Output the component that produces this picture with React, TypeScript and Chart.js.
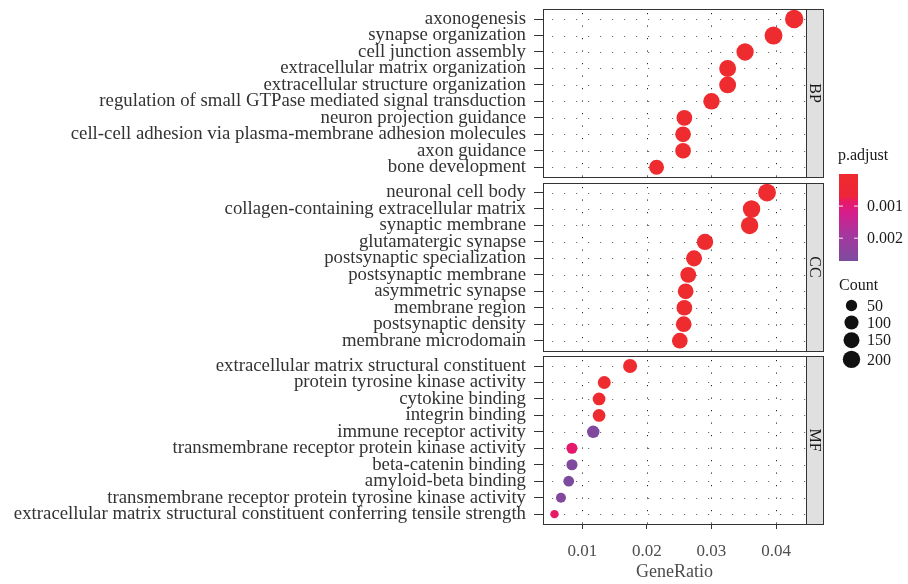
import React, { useEffect, useRef } from "react";
import { Chart, registerables } from "chart.js";

Chart.register(...registerables);

const FONT = "'Liberation Serif', 'Times New Roman', serif";

// ---------------- data ----------------
const panelNames = ["BP", "CC", "MF"];

const bpTerms = [
  "axonogenesis",
  "synapse organization",
  "cell junction assembly",
  "extracellular matrix organization",
  "extracellular structure organization",
  "regulation of small GTPase mediated signal transduction",
  "neuron projection guidance",
  "cell-cell adhesion via plasma-membrane adhesion molecules",
  "axon guidance",
  "bone development",
];
const bpRatio = [0.0428, 0.0396, 0.0352, 0.0325, 0.0325, 0.03, 0.0258, 0.0256, 0.0256, 0.0215];
const bpCount = [240, 222, 197, 182, 182, 168, 144, 143, 143, 120];
const bpPadj = [3.1e-20, 5.4e-18, 2.2e-14, 6.0e-15, 7.1e-15, 1.3e-11, 4.5e-13, 2.6e-10, 8.8e-12, 1.9e-7];

const ccTerms = [
  "neuronal cell body",
  "collagen-containing extracellular matrix",
  "synaptic membrane",
  "glutamatergic synapse",
  "postsynaptic specialization",
  "postsynaptic membrane",
  "asymmetric synapse",
  "membrane region",
  "postsynaptic density",
  "membrane microdomain",
];
const ccRatio = [0.0386, 0.0362, 0.0359, 0.029, 0.0273, 0.0264, 0.026, 0.0258, 0.0257, 0.0251];
const ccCount = [216, 203, 201, 162, 153, 148, 145, 144, 144, 141];
const ccPadj = [1.5e-17, 4.4e-19, 2.3e-15, 6.8e-13, 9.1e-10, 1.2e-10, 3.3e-9, 5.5e-8, 2.1e-9, 8.0e-8];

const mfTerms = [
  "extracellular matrix structural constituent",
  "protein tyrosine kinase activity",
  "cytokine binding",
  "integrin binding",
  "immune receptor activity",
  "transmembrane receptor protein kinase activity",
  "beta-catenin binding",
  "amyloid-beta binding",
  "transmembrane receptor protein tyrosine kinase activity",
  "extracellular matrix structural constituent conferring tensile strength",
];
const mfRatio = [0.0174, 0.0134, 0.0126, 0.0126, 0.0117, 0.0084, 0.0084, 0.0079, 0.0067, 0.0057];
const mfCount = [97, 75, 71, 71, 66, 47, 47, 44, 37, 32];
const mfPadj = [2.8e-8, 4.1e-5, 7.6e-5, 6.2e-5, 0.00262, 0.00089, 0.00266, 0.00271, 0.00258, 0.00086];

const xTicks = [0.01, 0.02, 0.03, 0.04];
const xMin = 0.00392;
const xMax = 0.04463;
const padjBreaks = [0.001, 0.002];
const countBreaks = [50, 100, 150, 200];

// ---------------- derived ----------------
const panels = [
  { name: panelNames[0], terms: bpTerms, ratio: bpRatio, count: bpCount, padj: bpPadj },
  { name: panelNames[1], terms: ccTerms, ratio: ccRatio, count: ccCount, padj: ccPadj },
  { name: panelNames[2], terms: mfTerms, ratio: mfRatio, count: mfCount, padj: mfPadj },
];

const EXPAND = 0.6;
const GAP = 0.34;
const spanOf = (p: number) => panels[p].terms.length - 1 + 2 * EXPAND;
const panelStart = (p: number) => {
  let s = 0;
  for (let k = 0; k < p; k++) s += spanOf(k) + GAP;
  return s;
};
const posOf = (p: number, i: number) => panelStart(p) + EXPAND + i;
const yTotal = panelStart(panels.length - 1) + spanOf(panels.length - 1);

const yTickValues: number[] = [];
const yTickLabels: string[] = [];
panels.forEach((pn, p) =>
  pn.terms.forEach((t, i) => {
    yTickValues.push(posOf(p, i));
    yTickLabels.push(t);
  })
);

const allCounts = [...bpCount, ...ccCount, ...mfCount];
const cMin = Math.min(...allCounts);
const cMax = Math.max(...allCounts);
const R_MIN = 4.2;
const R_MAX = 9.2;
const radiusFor = (c: number) =>
  R_MIN + (R_MAX - R_MIN) * Math.sqrt(Math.max(0, c - cMin) / (cMax - cMin));

const allPadj = [...bpPadj, ...ccPadj, ...mfPadj];
const pMin = Math.min(...allPadj);
const pMax = Math.max(...allPadj);

const colorStops: [number, number[]][] = [
  [0, [238, 43, 46]],
  [0.25, [237, 38, 56]],
  [0.33, [230, 24, 110]],
  [0.45, [212, 30, 140]],
  [0.7, [165, 55, 158]],
  [1, [125, 75, 158]],
];
const rgb = (c: number[]) => `rgb(${Math.round(c[0])},${Math.round(c[1])},${Math.round(c[2])})`;
const colorFor = (p: number) => {
  const t = Math.min(1, Math.max(0, (p - pMin) / (pMax - pMin)));
  for (let k = 1; k < colorStops.length; k++) {
    const [t1, c1] = colorStops[k];
    const [t0, c0] = colorStops[k - 1];
    if (t <= t1) {
      const f = (t - t0) / (t1 - t0);
      return rgb([0, 1, 2].map((j) => c0[j] + (c1[j] - c0[j]) * f));
    }
  }
  return rgb(colorStops[colorStops.length - 1][1]);
};

// ---------------- plugin ----------------
const STRIP_W = 17;

const facetPlugin = {
  id: "facets",
  beforeDatasetsDraw(chart: any) {
    const { ctx, chartArea, scales } = chart;
    const x = scales.x;
    const y = scales.y;
    ctx.save();
    panels.forEach((pn, p) => {
      const top = Math.round(y.getPixelForValue(panelStart(p)));
      const bot = Math.round(y.getPixelForValue(panelStart(p) + spanOf(p)));
      ctx.fillStyle = "#ffffff";
      ctx.fillRect(chartArea.left, top, chartArea.right - chartArea.left, bot - top);
      ctx.lineWidth = 1;
      ctx.setLineDash([1.2, 10.8]);
      ctx.strokeStyle = "#6e6e6e";
      pn.terms.forEach((_, i) => {
        const yy = Math.round(y.getPixelForValue(posOf(p, i))) + 0.5;
        ctx.beginPath();
        ctx.moveTo(chartArea.left + 9, yy);
        ctx.lineTo(chartArea.right, yy);
        ctx.stroke();
      });
      ctx.strokeStyle = "#222222";
      ctx.setLineDash([1.2, 11.3]);
      xTicks.forEach((t) => {
        const xx = Math.round(x.getPixelForValue(t)) + 0.5;
        ctx.beginPath();
        ctx.moveTo(xx, top + 4);
        ctx.lineTo(xx, bot);
        ctx.stroke();
      });
    });
    ctx.restore();
  },
  afterDatasetsDraw(chart: any) {
    const { ctx, chartArea, scales } = chart;
    const y = scales.y;
    ctx.save();
    ctx.setLineDash([]);
    panels.forEach((pn, p) => {
      const top = Math.round(y.getPixelForValue(panelStart(p)));
      const bot = Math.round(y.getPixelForValue(panelStart(p) + spanOf(p)));
      const L = Math.round(chartArea.left);
      const R = Math.round(chartArea.right);
      // strip
      ctx.fillStyle = "#e0e0e0";
      ctx.fillRect(R, top, STRIP_W, bot - top);
      ctx.strokeStyle = "#333333";
      ctx.lineWidth = 1;
      ctx.strokeRect(R + 0.5, top + 0.5, STRIP_W, bot - top);
      ctx.strokeRect(L + 0.5, top + 0.5, R - L, bot - top);
      ctx.save();
      ctx.translate(R + STRIP_W / 2 + 0.5, (top + bot) / 2);
      ctx.rotate(Math.PI / 2);
      ctx.fillStyle = "#1a1a1a";
      ctx.font = `16px ${FONT}`;
      ctx.textAlign = "center";
      ctx.textBaseline = "middle";
      ctx.fillText(pn.name, 0, 1);
      ctx.restore();
    });

    // legend: p.adjust colourbar
    const LX = 839;
    ctx.fillStyle = "#1a1a1a";
    ctx.font = `16px ${FONT}`;
    ctx.textAlign = "left";
    ctx.textBaseline = "middle";
    ctx.fillText("p.adjust", LX - 1, 156);
    const barTop = 174;
    const barBot = 261;
    const barW = 19;
    const grad = ctx.createLinearGradient(0, barTop, 0, barBot);
    colorStops.forEach(([t, c]) => grad.addColorStop(t, rgb(c)));
    ctx.fillStyle = grad;
    ctx.fillRect(LX, barTop, barW, barBot - barTop);
    padjBreaks.forEach((b) => {
      const yy = barTop + ((b - pMin) / (pMax - pMin)) * (barBot - barTop);
      ctx.strokeStyle = "rgba(255,255,255,0.9)";
      ctx.lineWidth = 1;
      ctx.beginPath();
      ctx.moveTo(LX, yy);
      ctx.lineTo(LX + 4, yy);
      ctx.moveTo(LX + barW - 4, yy);
      ctx.lineTo(LX + barW, yy);
      ctx.stroke();
      ctx.fillStyle = "#1a1a1a";
      ctx.fillText(b.toFixed(3), LX + 28, yy + 1);
    });

    // legend: Count
    ctx.fillStyle = "#1a1a1a";
    ctx.fillText("Count", LX, 286);
    let yy = 297;
    countBreaks.forEach((c) => {
      const r = radiusFor(c);
      const h = Math.max(17, 2 * r + 2.5);
      const cy = yy + h / 2;
      ctx.fillStyle = "#111111";
      ctx.beginPath();
      ctx.arc(LX + 12.5, cy, r, 0, Math.PI * 2);
      ctx.fill();
      ctx.fillStyle = "#1a1a1a";
      ctx.fillText(String(c), LX + 28, cy + 1);
      yy += h;
    });
    ctx.restore();
  },
};

export default function App() {
  const ref = useRef<HTMLCanvasElement | null>(null);
  useEffect(() => {
    if (!ref.current) return;
    const datasets = panels.map((pn, p) => ({
      label: pn.name,
      data: pn.terms.map((_, i) => ({ x: pn.ratio[i], y: posOf(p, i) })),
      pointRadius: pn.count.map((c) => radiusFor(c)),
      pointHoverRadius: pn.count.map((c) => radiusFor(c)),
      pointBackgroundColor: pn.padj.map((v) => colorFor(v)),
      pointBorderWidth: 0,
      borderWidth: 0,
      showLine: false,
    }));
    const chart = new Chart(ref.current, {
      type: "scatter",
      data: { datasets },
      options: {
        responsive: false,
        animation: false,
        devicePixelRatio: 1,
        layout: { padding: { top: 7, right: 102, left: 0, bottom: 0 } },
        plugins: { legend: { display: false }, tooltip: { enabled: false } },
        scales: {
          x: {
            type: "linear",
            min: xMin,
            max: xMax,
            afterBuildTicks: (s: any) => {
              s.ticks = xTicks.map((v) => ({ value: v }));
            },
            afterFit: (s: any) => {
              s.height = 60;
              s.paddingLeft = 0;
              s.paddingRight = 0;
            },
            ticks: {
              autoSkip: false,
              maxRotation: 0,
              padding: 12,
              color: "#4d4d4d",
              font: { family: FONT, size: 17 },
              callback: (v: any) => Number(v).toFixed(2),
            },
            grid: { drawOnChartArea: false, drawTicks: true, tickLength: 5, color: "#333333" },
            border: { display: false },
            title: {
              display: true,
              text: "GeneRatio",
              color: "#4d4d4d",
              font: { family: FONT, size: 18 },
              padding: { top: 0, bottom: 1 },
            },
          },
          y: {
            type: "linear",
            reverse: true,
            min: 0,
            max: yTotal,
            afterBuildTicks: (s: any) => {
              s.ticks = yTickValues.map((v) => ({ value: v }));
            },
            afterFit: (s: any) => {
              s.width = 543;
              s.paddingTop = 0;
              s.paddingBottom = 0;
            },
            ticks: {
              autoSkip: false,
              padding: 8,
              color: "#333333",
              font: { family: FONT, size: 18.8, lineHeight: 0.8 },
              callback: (_v: any, idx: number) => yTickLabels[idx],
            },
            grid: { drawOnChartArea: false, drawTicks: true, tickLength: 9, color: "#333333" },
            border: { display: false },
          },
        },
      },
      plugins: [facetPlugin],
    } as any);
    return () => chart.destroy();
  }, []);
  return (
    <div style={{ position: "absolute", left: 0, top: 0, width: 908, height: 584, background: "#fff" }}>
      <canvas ref={ref} width={908} height={584} style={{ width: 908, height: 584, display: "block" }} />
    </div>
  );
}
